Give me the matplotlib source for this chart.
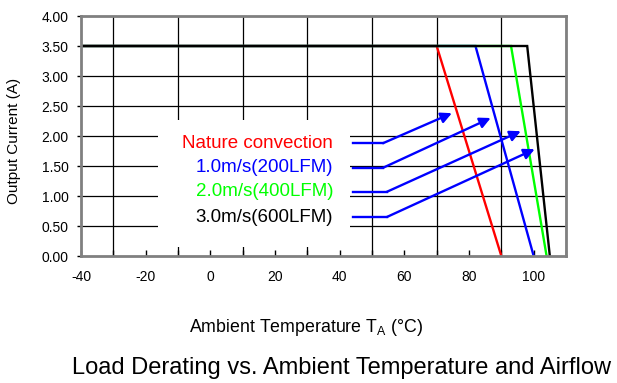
import matplotlib.pyplot as plt
from matplotlib.patches import Rectangle
from matplotlib.ticker import MultipleLocator, FormatStrFormatter

plt.rcParams['font.family'] = ['Liberation Sans', 'DejaVu Sans']
plt.rcParams['mathtext.fontset'] = 'custom'
plt.rcParams['mathtext.rm'] = 'Liberation Sans'
plt.rcParams['axes.unicode_minus'] = False

# derating curves: temperature (°C) vs output current (A)
series_names = ['Nature convection', '1.0m/s(200LFM)', '2.0m/s(400LFM)', '3.0m/s(600LFM)']
series_colors = ['#FF0000', '#0000FF', '#00FF00', '#000000']
temps = [
    [-40, 70, 90],
    [-40, 82, 100],
    [-40, 93, 104],
    [-40, 98, 105],
]
currents = [
    [3.5, 3.5, 0.0],
    [3.5, 3.5, 0.0],
    [3.5, 3.5, 0.0],
    [3.5, 3.5, 0.0],
]

# legend label positions and arrow paths (start, bend, tip)
label_x = 38
label_y = [1.88, 1.47, 1.07, 0.65]
arrow_bend_x = [53.4, 53.4, 54.6, 54.6]
arrow_tips = [(74.7, 2.38), (86.7, 2.30), (96.0, 2.08), (100.3, 1.78)]

fig = plt.figure(figsize=(6.17, 3.83), dpi=100)
ax = fig.add_axes([81 / 617, 1 - 256 / 383, 485 / 617, 240 / 383])

ax.set_xlim(-40, 110)
ax.set_ylim(0, 4)

# grid: horizontal every 0.5, vertical at -30, -10, ... 110
for yv in [0.5, 1.0, 1.5, 2.0, 2.5, 3.0]:
    ax.axhline(yv, color='black', lw=0.9, zorder=1)
for xv in range(-30, 111, 20):
    ax.axvline(xv, color='black', lw=0.9, zorder=1)

# white box behind the labels
ax.add_patch(Rectangle((-16.2, 0.15), 59.4, 2.12, facecolor='white',
                       edgecolor='none', zorder=2))

for t, c, col in zip(temps, currents, series_colors):
    ax.plot(t, c, color=col, lw=1.7, zorder=3, solid_joinstyle='miter')

for name, col, yv, bx, tip in zip(series_names, series_colors, label_y,
                                  arrow_bend_x, arrow_tips):
    ax.text(label_x, yv, name, color=col, fontsize=13.5, ha='right',
            va='center', zorder=4)
    ax.plot([44, bx], [yv, yv], color='#0000FF', lw=1.7, zorder=4)
    ax.annotate('', xy=tip, xytext=(bx, yv),
                arrowprops=dict(arrowstyle='-|>', color='#0000FF', lw=1.7,
                                mutation_scale=16, shrinkA=0, shrinkB=0),
                zorder=4)

ax.xaxis.set_major_locator(MultipleLocator(20))
ax.xaxis.set_minor_locator(MultipleLocator(10))
ax.yaxis.set_major_locator(MultipleLocator(0.5))
ax.yaxis.set_major_formatter(FormatStrFormatter('%.2f'))
ax.tick_params(axis='x', which='both', direction='in', length=4, width=1,
               labelsize=10, pad=10)
ax.tick_params(axis='y', direction='out', length=3, width=1, labelsize=10, pad=6)

for sp in ax.spines.values():
    sp.set_color('#808080')
    sp.set_linewidth(2)
    sp.set_zorder(5)

fig.text(14 / 617, 1 - 141 / 383, 'Output Current (A)', rotation=90,
         fontsize=11, ha='center', va='center')
fig.text(306 / 617, 1 - 328 / 383, r'Ambient Temperature T$_\mathregular{A}$ (°C)',
         fontsize=12.8, ha='center', va='center')
fig.text(341 / 617, 1 - 368 / 383, 'Load Derating vs. Ambient Temperature and Airflow',
         fontsize=17, ha='center', va='center')

fig.savefig('out.png', dpi=100)
